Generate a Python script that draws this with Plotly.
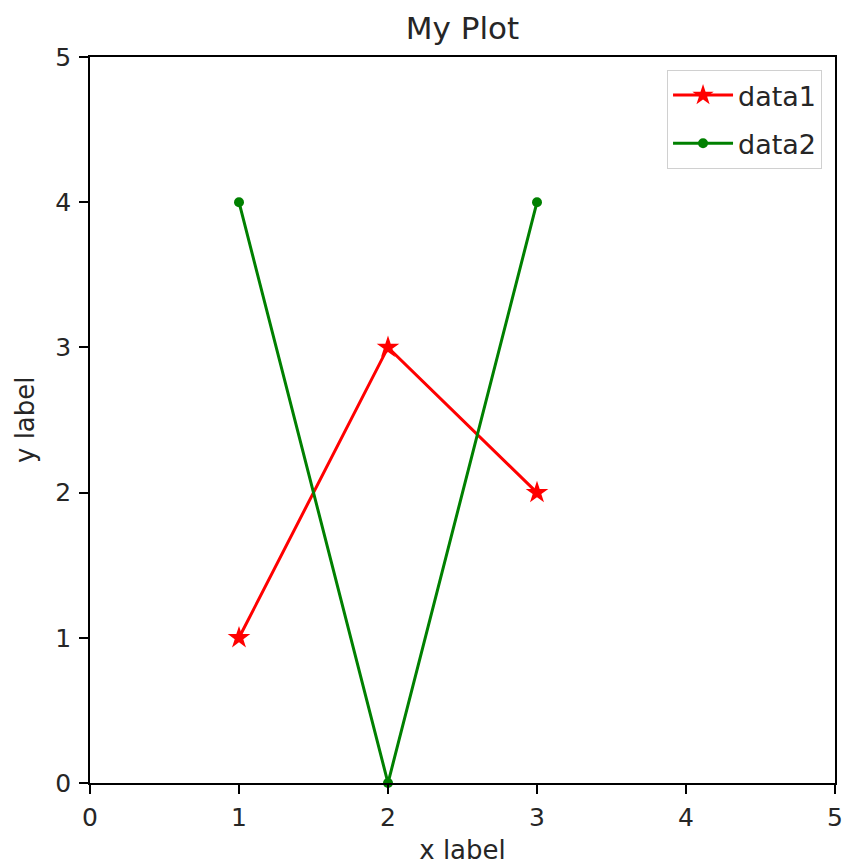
import plotly.graph_objects as go

x_vals = [1, 2, 3]
data1 = [1, 3, 2]
data2 = [4, 0, 4]
ticks = [0, 1, 2, 3, 4, 5]

FONT = "DejaVu Sans"
TXT = "#262626"

fig = go.Figure()
fig.add_trace(go.Scatter(x=x_vals, y=data1, mode="lines+markers", name="data1",
                         legendgroup="a",
                         line=dict(color="red", width=3),
                         marker=dict(symbol="star", size=17, color="red"),
                         cliponaxis=False))
fig.add_trace(go.Scatter(x=x_vals, y=data2, mode="lines+markers", name="data2",
                         legendgroup="b",
                         line=dict(color="green", width=3),
                         marker=dict(symbol="circle", size=10, color="green"),
                         cliponaxis=False))

axis_common = dict(range=[0, 5], tickvals=ticks, ticktext=[str(t) for t in ticks],
                   showgrid=False, zeroline=False, showline=True, mirror=True,
                   linecolor="black", linewidth=1.5, ticks="outside", ticklen=9,
                   tickcolor="black", tickwidth=1.5,
                   automargin=False,
                   tickfont=dict(family=FONT, size=25, color=TXT))

fig.update_layout(
    width=847, height=865,
    margin=dict(l=90, r=12, t=57, b=82),
    plot_bgcolor="white", paper_bgcolor="white",
    title=dict(text="My Plot", x=0.5, xref="paper", xanchor="center",
               y=1 - 28 / 865, yanchor="middle",
               font=dict(family=FONT, size=31, color=TXT)),
    xaxis=dict(**axis_common, ticklabelstandoff=2,
               title=dict(text="x label", standoff=13,
                          font=dict(family=FONT, size=26, color=TXT))),
    yaxis=dict(**axis_common, ticklabelstandoff=3),
    legend=dict(x=0.9826, y=0.982, xanchor="right", yanchor="top",
                bgcolor="white", bordercolor="#d0d0d0", borderwidth=1,
                font=dict(family=FONT, size=27, color=TXT),
                itemwidth=60, tracegroupgap=10),
    showlegend=True,
    annotations=[dict(text="y label", textangle=-90, xref="paper", yref="paper",
                      x=(25 - 90) / 745, y=0.5, xanchor="center", yanchor="middle",
                      showarrow=False, font=dict(family=FONT, size=26, color=TXT))],
)

fig.write_html("out.html")
